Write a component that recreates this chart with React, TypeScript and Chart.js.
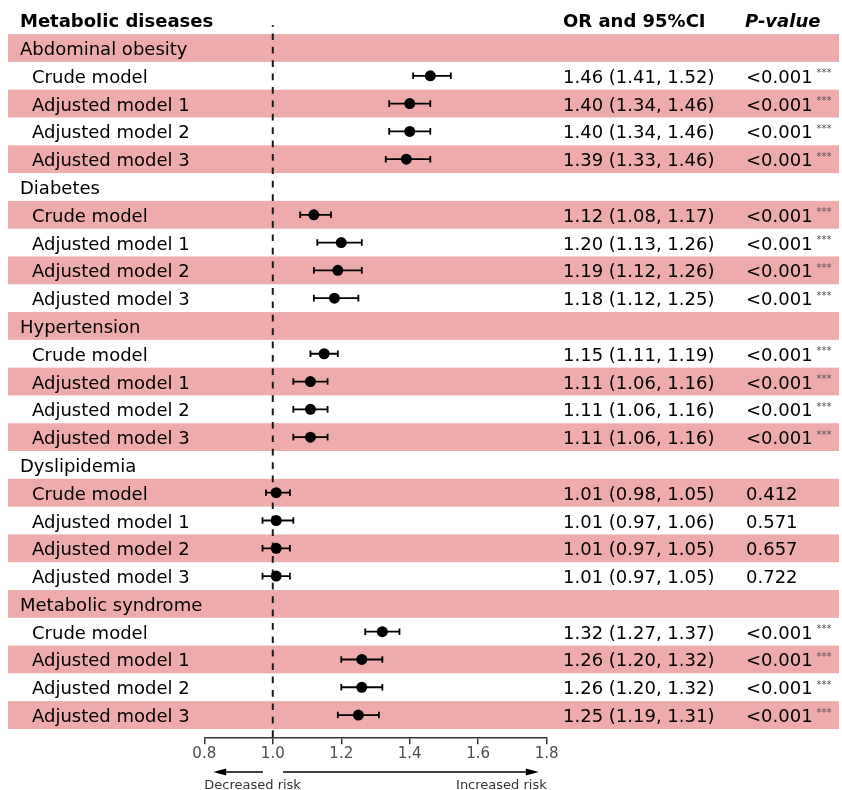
import React, { useEffect, useRef } from "react";
import { Chart, registerables } from "chart.js";

Chart.register(...registerables);

const groups = ["Abdominal obesity", "Diabetes", "Hypertension", "Dyslipidemia", "Metabolic syndrome"];
const models = ["Crude model", "Adjusted model 1", "Adjusted model 2", "Adjusted model 3"];

const oddsRatios = [1.46, 1.40, 1.40, 1.39, 1.12, 1.20, 1.19, 1.18, 1.15, 1.11, 1.11, 1.11, 1.01, 1.01, 1.01, 1.01, 1.32, 1.26, 1.26, 1.25];
const ciLower = [1.41, 1.34, 1.34, 1.33, 1.08, 1.13, 1.12, 1.12, 1.11, 1.06, 1.06, 1.06, 0.98, 0.97, 0.97, 0.97, 1.27, 1.20, 1.20, 1.19];
const ciUpper = [1.52, 1.46, 1.46, 1.46, 1.17, 1.26, 1.26, 1.25, 1.19, 1.16, 1.16, 1.16, 1.05, 1.06, 1.05, 1.05, 1.37, 1.32, 1.32, 1.31];
const pValues = [
  "<0.001", "<0.001", "<0.001", "<0.001",
  "<0.001", "<0.001", "<0.001", "<0.001",
  "<0.001", "<0.001", "<0.001", "<0.001",
  "0.412", "0.571", "0.657", "0.722",
  "<0.001", "<0.001", "<0.001", "<0.001",
];
const pStars = [
  "***", "***", "***", "***",
  "***", "***", "***", "***",
  "***", "***", "***", "***",
  "", "", "", "",
  "***", "***", "***", "***",
];
const xTickValues = [0.8, 1.0, 1.2, 1.4, 1.6, 1.8];
const headerLabels = ["Metabolic diseases", "OR and 95%CI", "P-value"];
const arrowLabels = ["Decreased risk", "Increased risk"];

const FONT = "'DejaVu Sans', 'Liberation Sans', sans-serif";
const BAND = "#EEABAB";

type Row = { kind: "group" | "model"; label: string; idx: number };

const rows: Row[] = [];
groups.forEach((g, gi) => {
  rows.push({ kind: "group", label: g, idx: -1 });
  models.forEach((m, mi) => rows.push({ kind: "model", label: m, idx: gi * models.length + mi }));
});

const rowOfModel = (i: number) => rows.findIndex((r) => r.idx === i);

const forestPlugin = {
  id: "forest",
  beforeDatasetsDraw(chart: any) {
    const { ctx, chartArea } = chart;
    const x = chart.scales.x;
    const y = chart.scales.y;
    ctx.save();
    // alternating bands
    ctx.fillStyle = BAND;
    for (let r = 0; r < rows.length; r += 2) {
      const t = y.getPixelForValue(r - 0.5);
      const b = y.getPixelForValue(r + 0.5);
      ctx.fillRect(8, t, 831, b - t);
    }
    // reference line
    const xr = x.getPixelForValue(1.0);
    ctx.strokeStyle = "#1a1a1a";
    ctx.lineWidth = 2;
    ctx.setLineDash([6.7, 6.7]);
    ctx.lineDashOffset = 5;
    ctx.beginPath();
    ctx.moveTo(xr, chartArea.top);
    ctx.lineTo(xr, chartArea.bottom);
    ctx.stroke();
    ctx.setLineDash([]);
    // error bars
    ctx.strokeStyle = "#000";
    ctx.lineWidth = 1.8;
    oddsRatios.forEach((_, i) => {
      const py = y.getPixelForValue(rowOfModel(i));
      const xl = x.getPixelForValue(ciLower[i]);
      const xh = x.getPixelForValue(ciUpper[i]);
      ctx.beginPath();
      ctx.moveTo(xl, py);
      ctx.lineTo(xh, py);
      ctx.moveTo(xl, py - 3.3);
      ctx.lineTo(xl, py + 3.3);
      ctx.moveTo(xh, py - 3.3);
      ctx.lineTo(xh, py + 3.3);
      ctx.stroke();
    });
    ctx.restore();
  },
  afterDraw(chart: any) {
    const { ctx } = chart;
    const x = chart.scales.x;
    const y = chart.scales.y;
    ctx.save();
    ctx.textBaseline = "alphabetic";
    ctx.textAlign = "left";
    ctx.fillStyle = "#000";
    // header
    const hy = y.getPixelForValue(-1) + 6.5;
    ctx.font = `bold 18px ${FONT}`;
    ctx.fillText(headerLabels[0], 20, hy);
    ctx.fillText(headerLabels[1], 563, hy);
    ctx.font = `italic bold 18px ${FONT}`;
    ctx.fillText(headerLabels[2], 745, hy);

    rows.forEach((r, ri) => {
      const cy = y.getPixelForValue(ri);
      ctx.fillStyle = "#000";
      ctx.font = `18px ${FONT}`;
      if (r.kind === "group") {
        ctx.fillText(r.label, 20, cy + 7);
        return;
      }
      const i = r.idx;
      ctx.fillText(r.label, 32, cy + 7);
      const orText = `${oddsRatios[i].toFixed(2)} (${ciLower[i].toFixed(2)}, ${ciUpper[i].toFixed(2)})`;
      ctx.fillText(orText, 563, cy + 7);
      ctx.fillText(pValues[i], 746, cy + 7);
      if (pStars[i]) {
        const w = ctx.measureText(pValues[i]).width;
        ctx.font = `10px ${FONT}`;
        ctx.fillStyle = "#555";
        ctx.fillText(pStars[i], 746 + w + 4, cy + 0.5);
      }
    });

    // arrows
    const ay = 772;
    const drawArrow = (from: number, to: number) => {
      const dir = Math.sign(to - from);
      ctx.strokeStyle = "#000";
      ctx.fillStyle = "#000";
      ctx.lineWidth = 1.5;
      ctx.beginPath();
      ctx.moveTo(from, ay);
      ctx.lineTo(to - dir * 10, ay);
      ctx.stroke();
      ctx.beginPath();
      ctx.moveTo(to, ay);
      ctx.lineTo(to - dir * 13, ay - 3.6);
      ctx.lineTo(to - dir * 13, ay + 3.6);
      ctx.closePath();
      ctx.fill();
    };
    drawArrow(x.getPixelForValue(0.971), x.getPixelForValue(0.826));
    drawArrow(x.getPixelForValue(1.03), x.getPixelForValue(1.777));
    ctx.font = `13px ${FONT}`;
    ctx.fillStyle = "#333";
    ctx.textAlign = "left";
    ctx.fillText(arrowLabels[0], x.getPixelForValue(0.8), 788.5);
    ctx.textAlign = "right";
    ctx.fillText(arrowLabels[1], x.getPixelForValue(1.8), 788.5);
    ctx.restore();
  },
};

export default function App() {
  const ref = useRef<HTMLCanvasElement | null>(null);
  useEffect(() => {
    if (!ref.current) return;
    const chart = new Chart(ref.current, {
      type: "scatter",
      data: {
        datasets: [
          {
            data: oddsRatios.map((v, i) => ({ x: v, y: rowOfModel(i) })),
            backgroundColor: "#000",
            borderWidth: 0,
            pointRadius: 5.5,
            pointHoverRadius: 5.5,
          },
        ],
      },
      options: {
        animation: false,
        responsive: false,
        events: [],
        layout: { padding: { left: 204.3, right: 295.3, top: 25, bottom: 0 } },
        plugins: { legend: { display: false }, tooltip: { enabled: false } },
        scales: {
          x: {
            type: "linear",
            min: 0.8,
            max: 1.8,
            afterBuildTicks: (s: any) => {
              s.ticks = xTickValues.map((v) => ({ value: v }));
            },
            afterFit: (s: any) => {
              s.height = 52.7;
            },
            ticks: {
              color: "#4d4d4d",
              font: { family: FONT, size: 15 },
              padding: 1,
              callback: (v: any) => Number(v).toFixed(1),
            },
            grid: {
              drawOnChartArea: false,
              drawTicks: true,
              tickLength: 7,
              color: "#333",
              lineWidth: 1.5,
            },
            border: { display: true, color: "#333", width: 1.5 },
          },
          y: {
            type: "linear",
            display: false,
            reverse: true,
            min: -0.828,
            max: 24.8,
          },
        },
      },
      plugins: [forestPlugin],
    });
    return () => chart.destroy();
  }, []);
  return (
    <div style={{ position: "fixed", left: 0, top: 0, width: 842, height: 790, background: "#fff" }}>
      <canvas ref={ref} width={842} height={790} style={{ display: "block" }} />
    </div>
  );
}
